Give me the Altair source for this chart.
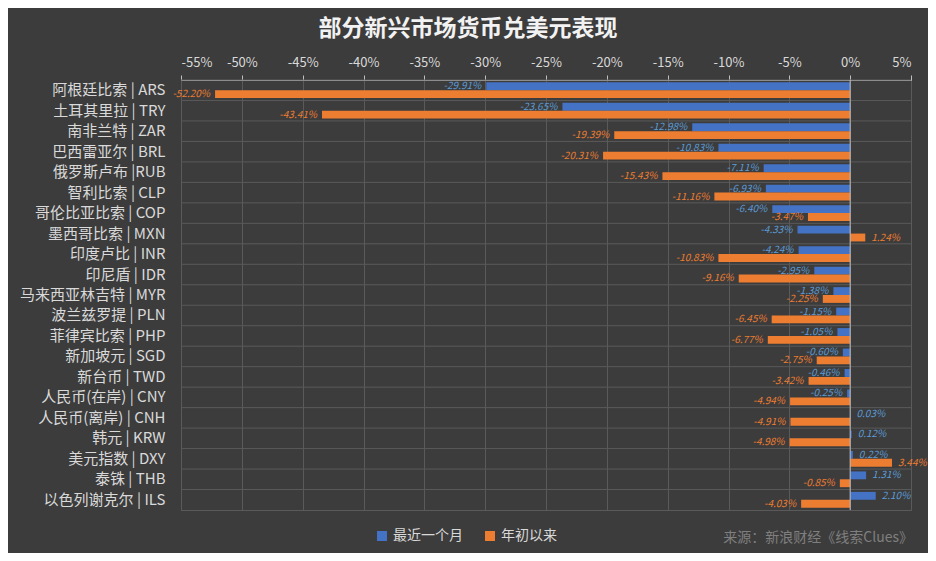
import altair as alt
import pandas as pd

categories = [
    "阿根廷比索 | ARS", "土耳其里拉 | TRY", "南非兰特 | ZAR", "巴西雷亚尔 | BRL",
    "俄罗斯卢布 |RUB", "智利比索 | CLP", "哥伦比亚比索 | COP", "墨西哥比索 | MXN",
    "印度卢比 | INR", "印尼盾 | IDR", "马来西亚林吉特 | MYR", "波兰兹罗提 | PLN",
    "菲律宾比索 | PHP", "新加坡元 | SGD", "新台币 | TWD", "人民币(在岸) | CNY",
    "人民币(离岸) | CNH", "韩元 | KRW", "美元指数 | DXY", "泰铢 | THB", "以色列谢克尔 | ILS",
]
month = [-29.91, -23.65, -12.98, -10.83, -7.11, -6.93, -6.40, -4.33, -4.24, -2.95,
         -1.38, -1.15, -1.05, -0.60, -0.46, -0.25, 0.03, 0.12, 0.22, 1.31, 2.10]
ytd = [-52.20, -43.41, -19.39, -20.31, -15.43, -11.16, -3.47, 1.24, -10.83, -9.16,
       -2.25, -6.45, -6.77, -2.75, -3.42, -4.94, -4.91, -4.98, 3.44, -0.85, -4.03]
series = ["最近一个月", "年初以来"]
x_ticks = [-55, -50, -45, -40, -35, -30, -25, -20, -15, -10, -5, 0, 5]
title_text = "部分新兴市场货币兑美元表现"
source_text = "来源：新浪财经《线索Clues》"

FONT = "Noto Sans CJK SC"
GRID = "#5a5a5a"
LABEL = "#d9d9d9"

rows = []
for c, m, y in zip(categories, month, ytd):
    rows.append({"cat": c, "series": series[0], "v": m})
    rows.append({"cat": c, "series": series[1], "v": y})
df = pd.DataFrame(rows)
df["label"] = df["v"].map(lambda v: f"{v:.2f}%")

yscale = alt.Scale(domain=categories, paddingInner=0, paddingOuter=0)
xscale = alt.Scale(domain=[-55, 5], nice=False, zero=False)
offscale = alt.Scale(domain=series, paddingInner=0, paddingOuter=0.3)

yaxis = alt.Axis(ticks=False, domain=False, grid=False, labelColor=LABEL,
                 labelFontSize=15, labelFont=FONT, labelPadding=16, labelLimit=250)

base = alt.Chart(df)

bars = base.mark_bar().encode(
    x=alt.X("v:Q", scale=xscale, title=None,
            axis=alt.Axis(orient="top", values=x_ticks, labelExpr="datum.value + '%'",
                          grid=True, gridColor=GRID, domain=True, domainColor="#bfbfbf",
                          ticks=True, tickColor="#bfbfbf", tickSize=5,
                          labelColor=LABEL, labelFontSize=13, labelFont=FONT,
                          labelPadding=6)),
    y=alt.Y("cat:N", scale=yscale, title=None, axis=yaxis),
    yOffset=alt.YOffset("series:N", scale=offscale, sort=series),
    color=alt.Color("series:N", scale=alt.Scale(domain=series, range=["#4472C4", "#ED7D31"]),
                    sort=series,
                    legend=alt.Legend(orient="none", legendX=194, legendY=449,
                                      direction="horizontal", title=None,
                                      symbolType="square", symbolSize=100,
                                      symbolStrokeWidth=0,
                                      labelColor=LABEL, labelFontSize=14, labelFont=FONT,
                                      columnPadding=20)),
)

grid_h = alt.Chart(pd.DataFrame({"cat": categories})).mark_rule(
    color=GRID, strokeWidth=1
).encode(
    y=alt.Y("cat:N", bandPosition=0, scale=yscale, title=None, axis=yaxis)
)

zero = alt.Chart(pd.DataFrame({"z": [0]})).mark_rule(color="#bfbfbf", strokeWidth=1).encode(
    x=alt.X("z:Q", scale=xscale)
)

text_color = alt.condition("datum.series == '最近一个月'", alt.value("#5b9bd5"), alt.value("#ED7D31"))

neg = base.transform_filter("datum.v < 0").mark_text(
    align="right", baseline="middle", dx=-5, fontStyle="italic", fontSize=10, font=FONT
).encode(
    x=alt.X("v:Q", scale=xscale),
    y=alt.Y("cat:N", scale=yscale, axis=yaxis),
    yOffset=alt.YOffset("series:N", scale=offscale, sort=series),
    text="label:N",
    color=text_color,
)
pos = base.transform_filter("datum.v >= 0").mark_text(
    align="left", baseline="middle", dx=6, fontStyle="italic", fontSize=10, font=FONT
).encode(
    x=alt.X("v:Q", scale=xscale),
    y=alt.Y("cat:N", scale=yscale, axis=yaxis),
    yOffset=alt.YOffset("series:N", scale=offscale, sort=series),
    text="label:N",
    color=text_color,
)

src = alt.Chart(pd.DataFrame({"t": [source_text]})).mark_text(
    align="right", baseline="middle", fontSize=14, font=FONT, color="#7f7f7f"
).encode(text="t:N", x=alt.value(732), y=alt.value(458))

chart = alt.layer(bars, grid_h, zero, neg, pos, src).properties(
    width=730, height=430,
    title=alt.TitleParams(title_text, fontSize=23, font=FONT, fontWeight="bold",
                          color="#f2f2f2", anchor="middle", dx=-78, offset=15),
    background="#3c3c3c",
    padding={"left": 173, "top": 72, "right": 17, "bottom": 43},
    autosize=alt.AutoSizeParams(type="none"),
).configure_view(stroke=GRID, strokeWidth=1)

chart.save("out.html", embed_options={"renderer": "svg", "actions": False})
